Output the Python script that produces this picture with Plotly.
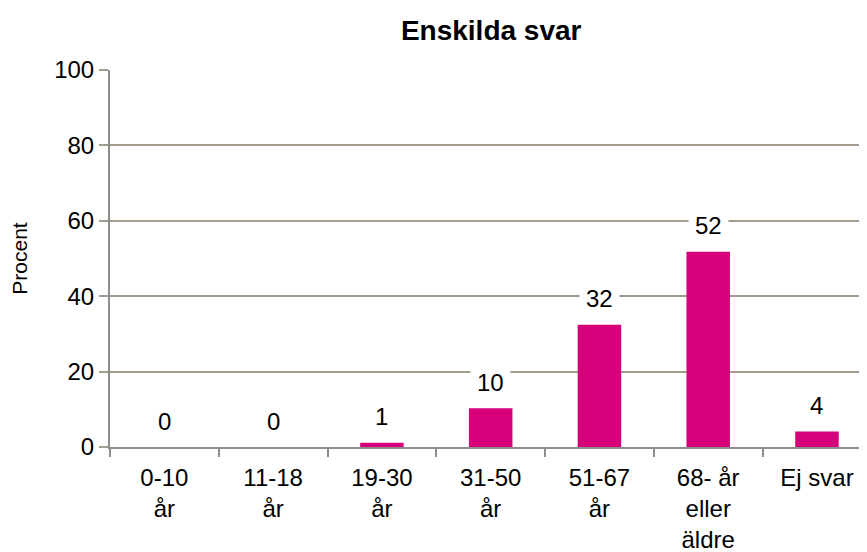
import plotly.graph_objects as go

# Age groups and share of answers (percent)
categories = ["0-10<br>år", "11-18<br>år", "19-30<br>år", "31-50<br>år",
              "51-67<br>år", "68- år<br>eller<br>äldre", "Ej svar"]
values = [0, 0, 1.1, 10.3, 32.4, 51.8, 4.1]
labels = ["0", "0", "1", "10", "32", "52", "4"]

BAR_COLOR = "#d5007a"
GRID_COLOR = "#a39b8b"
AXIS_COLOR = "#8c8c8c"
FONT = "Liberation Sans, Arial, sans-serif"

fig = go.Figure()
fig.add_trace(go.Bar(
    x=categories,
    y=values,
    marker=dict(color=BAR_COLOR, line=dict(width=0)),
    hoverinfo="skip",
))

# value labels with white box so gridlines are masked behind the text
for cat, val, lab in zip(categories, values, labels):
    fig.add_annotation(
        x=cat, y=val, text=lab, showarrow=False,
        yanchor="middle", yshift=26,
        bgcolor="white", borderpad=6,
        font=dict(family=FONT, size=24, color="black"),
    )

# the page body has an 8px margin, so the figure is sized 8px smaller
fig.update_layout(
    width=859, height=544,
    margin=dict(l=102, r=0, t=62, b=105),
    paper_bgcolor="white",
    plot_bgcolor="white",
    showlegend=False,
    bargap=0.6,
    font=dict(family=FONT, size=24, color="black"),
    title=dict(
        text="<b>Enskilda svar</b>",
        font=dict(family=FONT, size=28, color="black"),
        x=0.5625, xanchor="center",
        y=1 - 22 / 544, yanchor="middle",
    ),
    xaxis=dict(
        type="category",
        range=[-0.5, 6.46],
        showline=True, linecolor=AXIS_COLOR, linewidth=2,
        ticks="outside", tickson="boundaries",
        ticklen=8, tickcolor=AXIS_COLOR, tickwidth=2,
        showgrid=False,
        tickfont=dict(family=FONT, size=24, color="black"),
        tickangle=0,
        ticklabelstandoff=8,
    ),
    yaxis=dict(
        range=[0, 100],
        tickvals=[0, 20, 40, 60, 80, 100],
        showline=True, linecolor=AXIS_COLOR, linewidth=2,
        ticks="outside", ticklen=9, tickcolor=GRID_COLOR, tickwidth=2,
        showgrid=True, gridcolor=GRID_COLOR, gridwidth=2,
        zeroline=False,
        tickfont=dict(family=FONT, size=24, color="black"),
        title=dict(text="Procent",
                   font=dict(family=FONT, size=21, color="black"),
                   standoff=24),
    ),
)

fig.write_html("out.html")
